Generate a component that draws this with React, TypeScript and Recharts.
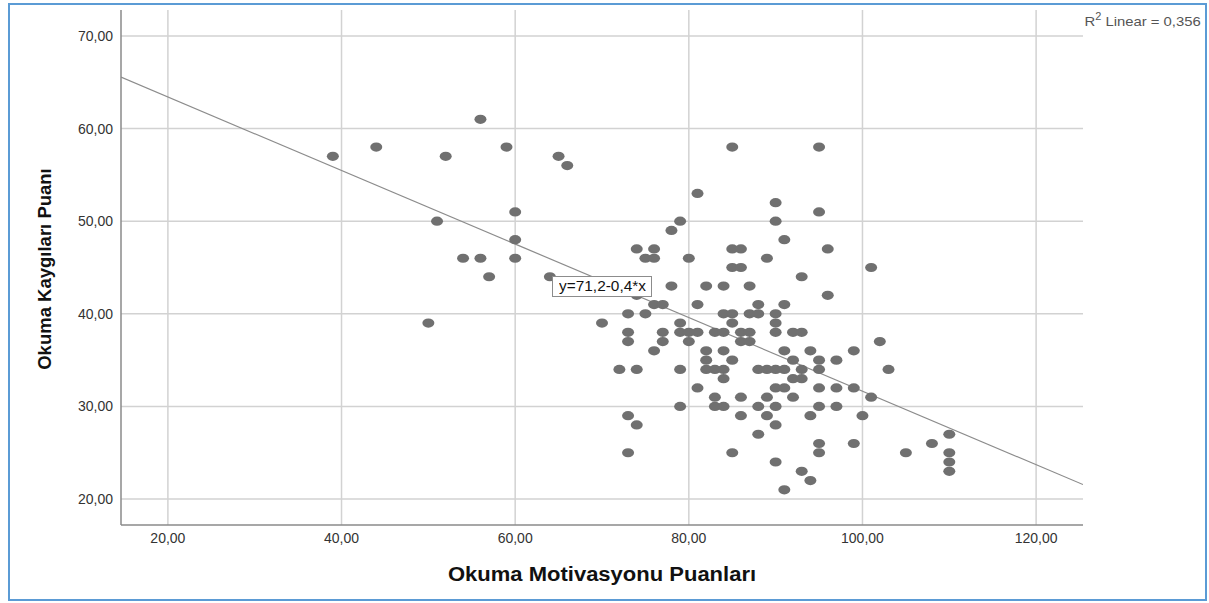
import React from 'react';
import { ScatterChart, Scatter, XAxis, YAxis, CartesianGrid, ReferenceLine } from 'recharts';

// motivation score (x) and anxiety score (y) pairs
const motivation = [
  39, 44, 52, 56, 59, 65, 66, 60, 60, 51, 54, 56, 60, 57, 64, 50,
  81, 85, 95, 90, 95, 79, 90, 78, 91,
  74, 76, 85, 86, 96, 75, 76, 80, 89, 85, 86, 101, 93,
  78, 82, 84, 87, 74, 96, 76, 77, 81, 88, 91,
  73, 75, 84, 85, 87, 88, 90, 70, 79, 85, 90,
  73, 77, 79, 80, 81, 83, 84, 86, 87, 90, 92, 93,
  73, 77, 80, 86, 87, 102, 76, 82, 84, 91, 94, 99,
  82, 85, 92, 95, 97,
  72, 74, 79, 82, 83, 84, 88, 89, 90, 91, 93, 95, 103,
  84, 92, 93, 81, 90, 91, 95, 97, 99,
  83, 86, 89, 92, 101, 79, 83, 84, 88, 90, 95, 97,
  73, 86, 89, 94, 100, 74, 90, 88, 110, 95, 99, 108,
  73, 85, 95, 105, 110, 90, 110, 93, 110, 94, 91,
];
const anxiety = [
  57, 58, 57, 61, 58, 57, 56, 51, 48, 50, 46, 46, 46, 44, 44, 39,
  53, 58, 58, 52, 51, 50, 50, 49, 48,
  47, 47, 47, 47, 47, 46, 46, 46, 46, 45, 45, 45, 44,
  43, 43, 43, 43, 42, 42, 41, 41, 41, 41, 41,
  40, 40, 40, 40, 40, 40, 40, 39, 39, 39, 39,
  38, 38, 38, 38, 38, 38, 38, 38, 38, 38, 38, 38,
  37, 37, 37, 37, 37, 37, 36, 36, 36, 36, 36, 36,
  35, 35, 35, 35, 35,
  34, 34, 34, 34, 34, 34, 34, 34, 34, 34, 34, 34, 34,
  33, 33, 33, 32, 32, 32, 32, 32, 32,
  31, 31, 31, 31, 31, 30, 30, 30, 30, 30, 30, 30,
  29, 29, 29, 29, 29, 28, 28, 27, 27, 26, 26, 26,
  25, 25, 25, 25, 25, 24, 24, 23, 23, 22, 21,
];

const xTicks = [20, 40, 60, 80, 100, 120];
const yTicks = [20, 30, 40, 50, 60, 70];
const xDomain = [14.6, 125.4];
const yDomain = [17.2, 72.8];

// fit line drawn across the plot
const fitIntercept = 71.35;
const fitSlope = -0.397;
const fitLabel = 'y=71,2-0,4*x';
const r2Label = '0,356';

const points = motivation.map((x, i) => ({ x, y: anxiety[i] }));
const fmt = (v: number) => v.toFixed(2).replace('.', ',');

const Dot = (props: any) => {
  const { cx, cy } = props;
  if (cx == null || cy == null) return null;
  return <ellipse cx={cx} cy={cy} rx={6} ry={4.6} fill="#707070" />;
};

const font = '"Liberation Sans", Arial, sans-serif';
const wide: React.CSSProperties = { display: 'inline-block', transform: 'scaleX(1.1)' };

export default function App() {
  return (
    <div
      style={{
        position: 'absolute',
        left: 8,
        top: 3,
        boxSizing: 'border-box',
        width: 1199,
        height: 598,
        border: '2px solid #5b9bd5',
        fontFamily: font,
        background: '#fff',
      }}
    >
      <ScatterChart
        width={1195}
        height={594}
        margin={{ top: 5, right: 122, left: 0, bottom: 44 }}
      >
        <CartesianGrid stroke="#d2d2d2" strokeWidth={1.5} verticalValues={xTicks} horizontalValues={yTicks} />
        <XAxis
          type="number"
          dataKey="x"
          domain={xDomain}
          ticks={xTicks}
          allowDataOverflow
          tickFormatter={fmt}
          tickLine={false}
          axisLine={{ stroke: '#8a8a8a', strokeWidth: 1.5 }}
          tick={{ fill: '#333', fontSize: 14, fontFamily: font }}
          height={30}
        />
        <YAxis
          type="number"
          dataKey="y"
          domain={yDomain}
          ticks={yTicks}
          allowDataOverflow
          tickFormatter={fmt}
          tickLine={false}
          axisLine={{ stroke: '#8a8a8a', strokeWidth: 1.5 }}
          tick={{ fill: '#333', fontSize: 14, fontFamily: font }}
          width={111}
        />
        <ReferenceLine
          segment={[
            { x: xDomain[0], y: fitIntercept + fitSlope * xDomain[0] },
            { x: xDomain[1], y: fitIntercept + fitSlope * xDomain[1] },
          ]}
          stroke="#8c8c8c"
          strokeWidth={1.2}
          ifOverflow="hidden"
        />
        <Scatter data={points} shape={<Dot />} isAnimationActive={false} />
      </ScatterChart>

      <div
        style={{
          position: 'absolute',
          left: 542,
          top: 271,
          width: 98,
          height: 19,
          border: '1px solid #8c8c8c',
          background: '#fff',
          fontSize: 14,
          lineHeight: '19px',
          textAlign: 'center',
          color: '#111',
        }}
      >
        <span style={wide}>{fitLabel}</span>
      </div>

      <div
        style={{
          position: 'absolute',
          right: 4,
          top: 6,
          fontSize: 13.5,
          color: '#555',
          whiteSpace: 'nowrap',
          transformOrigin: 'right center',
          transform: 'scaleX(1.1)',
        }}
      >
        R<sup style={{ fontSize: 10 }}>2</sup> Linear = {r2Label}
      </div>

      <div
        style={{
          position: 'absolute',
          left: -5,
          width: 1195,
          top: 558,
          textAlign: 'center',
          fontSize: 20,
          fontWeight: 'bold',
          color: '#111',
        }}
      >
        <span style={wide}>Okuma Motivasyonu Puanları</span>
      </div>

      <div
        style={{
          position: 'absolute',
          left: 35 - 150,
          top: 264 - 11,
          width: 300,
          textAlign: 'center',
          transform: 'rotate(-90deg)',
          fontSize: 18.5,
          fontWeight: 'bold',
          color: '#111',
        }}
      >
        Okuma Kaygıları Puanı
      </div>
    </div>
  );
}
